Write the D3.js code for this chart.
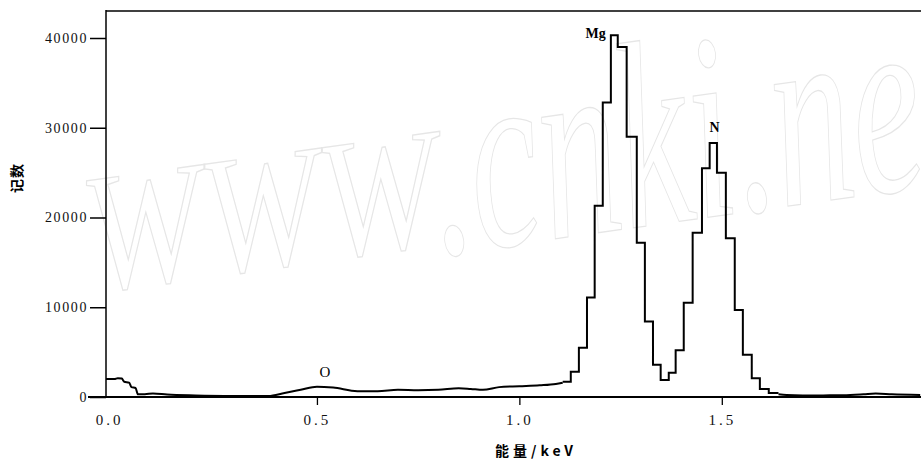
<!DOCTYPE html>
<html>
<head>
<meta charset="utf-8">
<script src="https://cdn.jsdelivr.net/npm/d3@7"></script>
<style>
  body { margin: 0; background: #fff; }
  svg { display: block; }
</style>
</head>
<body>
<svg width="921" height="462"></svg>
<script>
// EDS spectrum: counts vs energy (keV), Mg / N peaks and a weak O bump.

const width = 921;
const height = 462;

// smooth background from 0 up to the Mg peak
const lowEnergy = [-0.021, 0.0, 0.008, 0.018, 0.024, 0.036, 0.042, 0.052, 0.058, 0.075, 0.095, 0.13, 0.2, 0.3, 0.38,
  0.42, 0.46, 0.5, 0.54, 0.6, 0.65, 0.7, 0.75, 0.8, 0.85, 0.88, 0.91, 0.95, 1.0, 1.05, 1.09, 1.107];
const lowCounts = [2000, 2000, 2100, 2050, 1700, 1600, 1100, 1000, 300, 300, 400, 280, 180, 120, 110,
  450, 800, 1150, 1050, 650, 650, 800, 750, 800, 980, 900, 800, 1100, 1200, 1300, 1450, 1600];

// histogram channels across the Mg and N peaks (edges has one more entry than counts)
const binEdges = [1.107, 1.127, 1.147, 1.167, 1.186, 1.206, 1.226, 1.243, 1.265, 1.29, 1.31, 1.33, 1.349,
  1.369, 1.386, 1.406, 1.428, 1.451, 1.47, 1.488, 1.51, 1.532, 1.552, 1.574, 1.594, 1.616, 1.64];
const binCounts = [1700, 2800, 5500, 11100, 21300, 32800, 40300, 39000, 29000, 17200, 8400, 3600, 1900,
  2700, 5200, 10500, 18300, 25500, 28300, 25000, 17700, 9700, 4700, 2100, 900, 450];

// tail above the N peak
const tailEnergy = [1.64, 1.66, 1.7, 1.75, 1.8, 1.85, 1.88, 1.92, 1.99];
const tailCounts = [300, 220, 180, 180, 200, 300, 380, 300, 220];

const yTicks = [0, 10000, 20000, 30000, 40000];
const xTicks = [0.5, 1.0, 1.5];

const peakLabels = [
  { text: "Mg", e: 1.206, c: 40000, dx: 3, anchor: "end", weight: "bold", size: 14 },
  { text: "N", e: 1.475, c: 29500, dx: 3, anchor: "middle", weight: "bold", size: 14 },
  { text: "O", e: 0.52, c: 2200, dx: 0, anchor: "middle", weight: "normal", size: 15 },
];

const svg = d3.select("svg");

const x = d3.scaleLinear().domain([-0.021, 1.992]).range([106, 921]);
const y = d3.scaleLinear().domain([0, 43120]).range([397, 10]);

// faint scan watermark
const wm = svg.append("g").attr("fill", "none").attr("stroke", "#e6e6e6").attr("stroke-width", 1.4)
  .attr("font-family", "Liberation Serif").attr("font-style", "italic");
wm.append("text")
  .attr("transform", "translate(92,292) rotate(-8) scale(0.8,0.95)")
  .attr("font-size", 178)
  .text("WWW");
wm.append("text")
  .attr("transform", "translate(440,255) rotate(-8) scale(0.57,0.95)")
  .attr("font-size", 280)
  .text(".cnki.ne");

// spines
svg.append("line").attr("x1", 106).attr("x2", 106).attr("y1", 10).attr("y2", 397)
  .attr("stroke", "#000").attr("stroke-width", 1.5);
svg.append("line").attr("x1", 106).attr("x2", 921).attr("y1", 11).attr("y2", 11)
  .attr("stroke", "#000").attr("stroke-width", 1.6);
svg.append("line").attr("x1", 88).attr("x2", 921).attr("y1", 397).attr("y2", 397)
  .attr("stroke", "#000").attr("stroke-width", 2);

const yAxis = d3.axisLeft(y).tickValues(yTicks).tickSize(16).tickPadding(2).tickFormat(d3.format("d"));
const gy = svg.append("g").attr("transform", "translate(106,0)").call(yAxis);
gy.select(".domain").remove();
gy.selectAll("line").attr("stroke-width", 1.5);
gy.selectAll("text")
  .attr("font-family", "Liberation Serif")
  .attr("font-size", 14)
  .attr("letter-spacing", 1.6)
  .attr("fill", "#111");

const xAxis = d3.axisBottom(x).tickValues(xTicks).tickSize(8).tickPadding(9).tickFormat(d3.format(".1f"));
const gx = svg.append("g").attr("transform", "translate(0,397)").call(xAxis);
gx.select(".domain").remove();
gx.selectAll("line").attr("stroke-width", 1.3);
gx.selectAll("text")
  .attr("font-family", "Liberation Serif")
  .attr("font-size", 15)
  .attr("letter-spacing", 3)
  .attr("fill", "#111");

// the 0.0 label sits under the y axis itself
svg
  .append("text")
  .attr("x", x(-0.016) + 1.5)
  .attr("y", 425)
  .attr("text-anchor", "middle")
  .attr("font-family", "Liberation Serif")
  .attr("font-size", 15)
  .attr("letter-spacing", 3)
  .attr("fill", "#111")
  .text("0.0");

// spectrum
const lowData = lowEnergy.map((e, i) => [e, lowCounts[i]]);
const stepData = binCounts.map((c, i) => [binEdges[i], c]);
stepData.push([binEdges[binEdges.length - 1], binCounts[binCounts.length - 1]]);
const tailData = tailEnergy.map((e, i) => [e, tailCounts[i]]);

const lineSmooth = d3.line().x((d) => x(d[0])).y((d) => y(d[1])).curve(d3.curveMonotoneX);
const lineStep = d3.line().x((d) => x(d[0])).y((d) => y(d[1])).curve(d3.curveStepAfter);

[
  [lowData, lineSmooth],
  [stepData, lineStep],
  [tailData, lineSmooth],
].forEach(([data, gen]) => {
  svg
    .append("path")
    .attr("d", gen(data))
    .attr("fill", "none")
    .attr("stroke", "#000")
    .attr("stroke-width", 2)
    .attr("stroke-linejoin", "miter");
});

// element labels
svg
  .selectAll(".peak")
  .data(peakLabels)
  .enter()
  .append("text")
  .attr("class", "peak")
  .attr("x", (d) => x(d.e) + d.dx)
  .attr("y", (d) => y(d.c))
  .attr("text-anchor", (d) => d.anchor)
  .attr("font-family", "Liberation Serif")
  .attr("font-size", (d) => d.size)
  .attr("font-weight", (d) => d.weight)
  .text((d) => d.text);

// axis titles
svg
  .append("text")
  .attr("x", 536)
  .attr("y", 456)
  .attr("text-anchor", "middle")
  .attr("font-family", "Noto Sans CJK SC")
  .attr("font-weight", "bold")
  .attr("font-size", 14)
  .attr("letter-spacing", 4)
  .text("能量/keV");

svg
  .append("text")
  .attr("transform", "translate(22,178) rotate(-90)")
  .attr("text-anchor", "middle")
  .attr("font-family", "Noto Sans CJK SC")
  .attr("font-weight", "bold")
  .attr("font-size", 14)
  .attr("letter-spacing", 1)
  .text("记数");
</script>
</body>
</html>
